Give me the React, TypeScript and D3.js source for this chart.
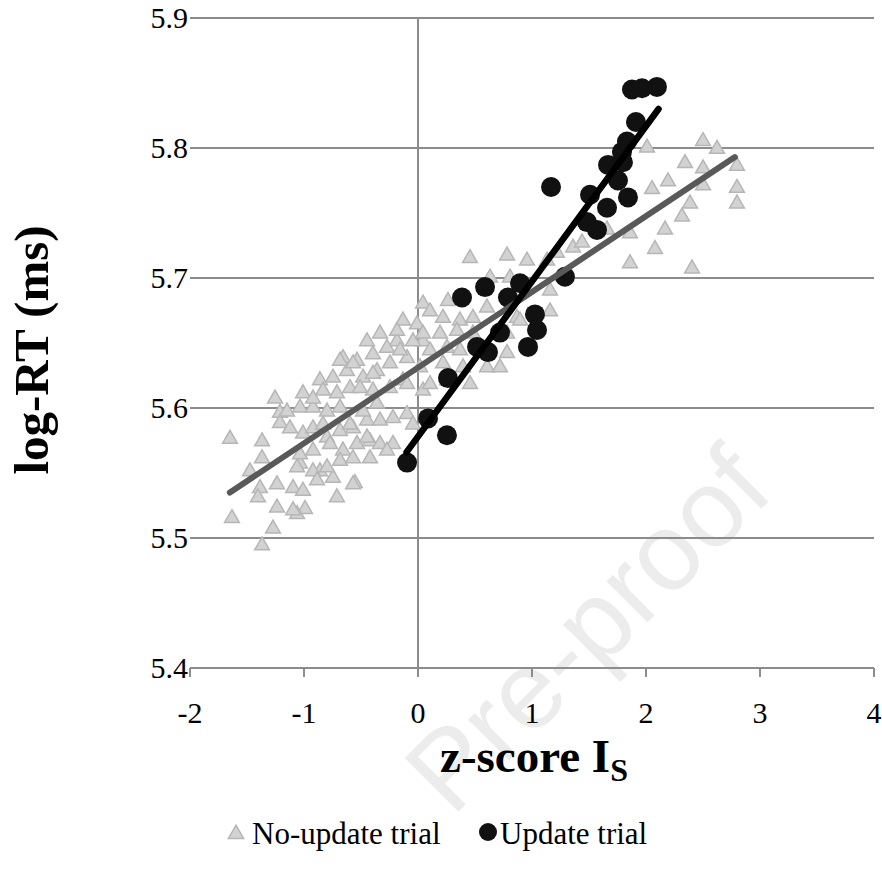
import React, { useEffect, useRef } from "react";
import * as d3 from "d3";

// No-update trials (z-score, log-RT)
const noUpdate: [number, number][] = [
  [-1.649, 5.577], [-1.632, 5.516], [-1.368, 5.495], [-1.272, 5.508], [-1.254, 5.608],
  [-1.368, 5.575], [-1.368, 5.562], [-1.474, 5.552], [-1.386, 5.539], [-1.404, 5.532],
  [-1.237, 5.542], [-1.237, 5.524], [-1.211, 5.597], [-1.211, 5.589], [-1.096, 5.539],
  [-1.009, 5.537], [-0.991, 5.523], [-1.061, 5.519], [-0.711, 5.532], [-0.553, 5.543],
  [-0.746, 5.547], [-0.86, 5.552], [-1.035, 5.558], [-1.149, 5.598], [-1.035, 5.601],
  [-0.921, 5.601], [-0.798, 5.598], [-0.684, 5.601], [-1.123, 5.585], [-1.009, 5.581],
  [-0.921, 5.585], [-0.798, 5.578], [-0.684, 5.583], [-0.57, 5.585], [-0.447, 5.591],
  [-0.333, 5.591], [-0.219, 5.593], [-0.096, 5.596], [-1.035, 5.565], [-0.921, 5.568],
  [-0.772, 5.573], [-0.658, 5.568], [-0.535, 5.573], [-0.421, 5.575], [-0.333, 5.573],
  [-0.219, 5.573], [-1.061, 5.555], [-0.921, 5.552], [-0.798, 5.555], [-0.684, 5.56],
  [-0.57, 5.562], [-0.421, 5.562], [-0.886, 5.545], [-0.57, 5.542], [-1.096, 5.522],
  [0.044, 5.681], [-0.132, 5.668], [-0.333, 5.658], [-0.447, 5.652], [-0.658, 5.639],
  [-0.86, 5.622], [-1.009, 5.612], [-0.009, 5.665], [-0.184, 5.652], [-0.272, 5.647],
  [-0.395, 5.642], [-0.535, 5.637], [-0.623, 5.629], [-0.746, 5.624], [-0.833, 5.614],
  [-0.921, 5.608], [0.044, 5.652], [-0.096, 5.639], [-0.246, 5.635], [-0.36, 5.629],
  [-0.482, 5.624], [-0.596, 5.616], [-0.711, 5.612], [0.018, 5.632], [-0.132, 5.622],
  [-0.246, 5.616], [-0.395, 5.614], [0.044, 5.614], [-0.684, 5.637], [-0.57, 5.635],
  [-0.184, 5.66], [-0.509, 5.616], [-0.395, 5.627], [-0.158, 5.645], [-0.044, 5.652],
  [-0.833, 5.588], [-0.596, 5.588], [-0.482, 5.598], [-0.36, 5.604], [-0.096, 5.619],
  [-0.447, 5.578], [-0.044, 5.588], [-0.272, 5.568],
  [0.456, 5.716], [0.781, 5.718], [0.956, 5.714], [0.632, 5.701], [0.807, 5.701],
  [0.263, 5.683], [0.105, 5.675], [0.219, 5.67], [0.368, 5.668], [0.482, 5.67],
  [0.605, 5.678], [0.868, 5.67], [0.044, 5.658], [0.193, 5.658], [0.342, 5.66],
  [0.482, 5.658], [0.781, 5.658], [0.105, 5.645], [0.254, 5.647], [0.368, 5.645],
  [0.781, 5.643], [0.219, 5.635], [0.395, 5.632], [0.605, 5.632], [0.719, 5.632],
  [0.105, 5.619], [0.456, 5.619], [0.254, 5.622],
  [1.158, 5.691], [1.158, 5.675], [0.895, 5.668], [1.132, 5.714], [1.36, 5.724],
  [2.009, 5.801], [2.5, 5.806], [2.623, 5.8], [2.342, 5.789], [2.5, 5.785],
  [2.798, 5.787], [2.193, 5.775], [2.053, 5.769], [2.5, 5.772], [2.798, 5.77],
  [2.386, 5.758], [2.798, 5.758], [2.316, 5.748], [2.167, 5.738], [1.86, 5.735],
  [2.079, 5.723], [1.86, 5.712], [2.404, 5.708], [1.439, 5.728], [1.219, 5.72],
  [1.658, 5.738],
];

// Update trials
const update: [number, number][] = [
  [-0.096, 5.558], [0.088, 5.592], [0.254, 5.579], [0.263, 5.623], [0.386, 5.685],
  [0.588, 5.693], [0.789, 5.685], [0.895, 5.696], [1.026, 5.672], [1.044, 5.66],
  [0.965, 5.647], [0.719, 5.658], [0.614, 5.643], [0.518, 5.647], [1.289, 5.701],
  [1.167, 5.77], [1.482, 5.743], [1.57, 5.737], [1.509, 5.764], [1.658, 5.754],
  [1.842, 5.762], [1.754, 5.775], [1.667, 5.787], [1.798, 5.789], [1.789, 5.797],
  [1.833, 5.805], [1.912, 5.82], [1.877, 5.845], [1.965, 5.846], [2.096, 5.847],
];

// linear trendlines (end points)
const noUpdateTrend: [number, number][] = [[-1.65, 5.535], [2.78, 5.793]];
const updateTrend: [number, number][] = [[-0.1, 5.566], [2.11, 5.83]];

const xTicks = [-2, -1, 0, 1, 2, 3, 4];
const yTicks = [5.4, 5.5, 5.6, 5.7, 5.8, 5.9];

const serif = "'Liberation Serif', 'Times New Roman', serif";

const App = () => {
  const ref = useRef<SVGSVGElement>(null);

  useEffect(() => {
    const svg = d3.select(ref.current);
    svg.selectAll("*").remove();

    const x = d3.scaleLinear().domain([-2, 4]).range([190, 874]);
    const y = d3.scaleLinear().domain([5.4, 5.9]).range([668, 18]);
    const grid = "#8c8c8c";

    // watermark
    svg
      .append("text")
      .attr("transform", "translate(452,818) rotate(-45)")
      .attr("font-family", "'Liberation Sans', Arial, sans-serif")
      .attr("font-size", 110)
      .attr("fill", "#ececec")
      .text("Pre-proof");

    // horizontal gridlines
    svg
      .append("g")
      .selectAll("line")
      .data(yTicks.filter((d) => d > 5.4))
      .join("line")
      .attr("x1", x(-2))
      .attr("x2", x(4))
      .attr("y1", (d) => y(d))
      .attr("y2", (d) => y(d))
      .attr("stroke", grid)
      .attr("stroke-width", 2);

    // vertical axis at x = 0
    svg
      .append("line")
      .attr("x1", x(0))
      .attr("x2", x(0))
      .attr("y1", y(5.9))
      .attr("y2", y(5.4))
      .attr("stroke", grid)
      .attr("stroke-width", 2);

    // x axis
    const xAxis = svg.append("g").attr("transform", `translate(0,${y(5.4)})`);
    xAxis
      .append("line")
      .attr("x1", x(-2))
      .attr("x2", x(4))
      .attr("stroke", grid)
      .attr("stroke-width", 2);
    xAxis
      .selectAll("line.tick")
      .data(xTicks)
      .join("line")
      .attr("class", "tick")
      .attr("x1", (d) => x(d))
      .attr("x2", (d) => x(d))
      .attr("y1", 0)
      .attr("y2", 9)
      .attr("stroke", grid)
      .attr("stroke-width", 2);
    xAxis
      .selectAll("text")
      .data(xTicks)
      .join("text")
      .attr("x", (d) => x(d))
      .attr("y", 55)
      .attr("text-anchor", "middle")
      .attr("font-family", serif)
      .attr("font-size", 30)
      .text((d) => d);

    // y tick labels
    svg
      .append("g")
      .selectAll("text")
      .data(yTicks)
      .join("text")
      .attr("x", 188)
      .attr("y", (d) => y(d) + 10)
      .attr("text-anchor", "end")
      .attr("font-family", serif)
      .attr("font-size", 30)
      .text((d) => d.toFixed(1));

    // triangles
    const tri = d3.symbol().type(d3.symbolTriangle).size(95);
    svg
      .append("g")
      .selectAll("path")
      .data(noUpdate)
      .join("path")
      .attr("d", tri)
      .attr("transform", (d) => `translate(${x(d[0])},${y(d[1]) + 1})`)
      .attr("fill", "#d2d2d2")
      .attr("stroke", "#b6b6b6")
      .attr("stroke-width", 1.5);

    // circles
    svg
      .append("g")
      .selectAll("circle")
      .data(update)
      .join("circle")
      .attr("cx", (d) => x(d[0]))
      .attr("cy", (d) => y(d[1]))
      .attr("r", 10)
      .attr("fill", "#111");

    const line = d3
      .line<[number, number]>()
      .x((d) => x(d[0]))
      .y((d) => y(d[1]));

    svg
      .append("path")
      .attr("d", line(noUpdateTrend))
      .attr("stroke", "#595959")
      .attr("stroke-width", 6)
      .attr("stroke-linecap", "round")
      .attr("fill", "none");
    svg
      .append("path")
      .attr("d", line(updateTrend))
      .attr("stroke", "#000")
      .attr("stroke-width", 6.5)
      .attr("stroke-linecap", "round")
      .attr("fill", "none");

    // axis titles
    svg
      .append("text")
      .attr("transform", "translate(48,350) rotate(-90)")
      .attr("text-anchor", "middle")
      .attr("font-family", serif)
      .attr("font-weight", "bold")
      .attr("font-size", 49)
      .text("log-RT (ms)");

    const xt = svg
      .append("text")
      .attr("x", 534)
      .attr("y", 772)
      .attr("text-anchor", "middle")
      .attr("font-family", serif)
      .attr("font-weight", "bold")
      .attr("font-size", 47);
    xt.append("tspan").text("z-score I");
    xt.append("tspan").attr("font-size", 32).attr("dy", 9).text("S");

    // legend
    const lg = svg.append("g");
    lg.append("path")
      .attr("d", d3.symbol().type(d3.symbolTriangle).size(100)())
      .attr("transform", "translate(236,834)")
      .attr("fill", "#d2d2d2")
      .attr("stroke", "#b6b6b6")
      .attr("stroke-width", 1.5);
    lg.append("text")
      .attr("x", 252)
      .attr("y", 844)
      .attr("font-family", serif)
      .attr("font-size", 31)
      .text("No-update trial");
    lg.append("circle").attr("cx", 488).attr("cy", 832).attr("r", 9).attr("fill", "#111");
    lg.append("text")
      .attr("x", 500)
      .attr("y", 844)
      .attr("font-family", serif)
      .attr("font-size", 31)
      .text("Update trial");
  }, []);

  return (
    <svg
      ref={ref}
      width={882}
      height={881}
      style={{ position: "absolute", left: 0, top: 0, background: "#fff" }}
    />
  );
};

export default App;
